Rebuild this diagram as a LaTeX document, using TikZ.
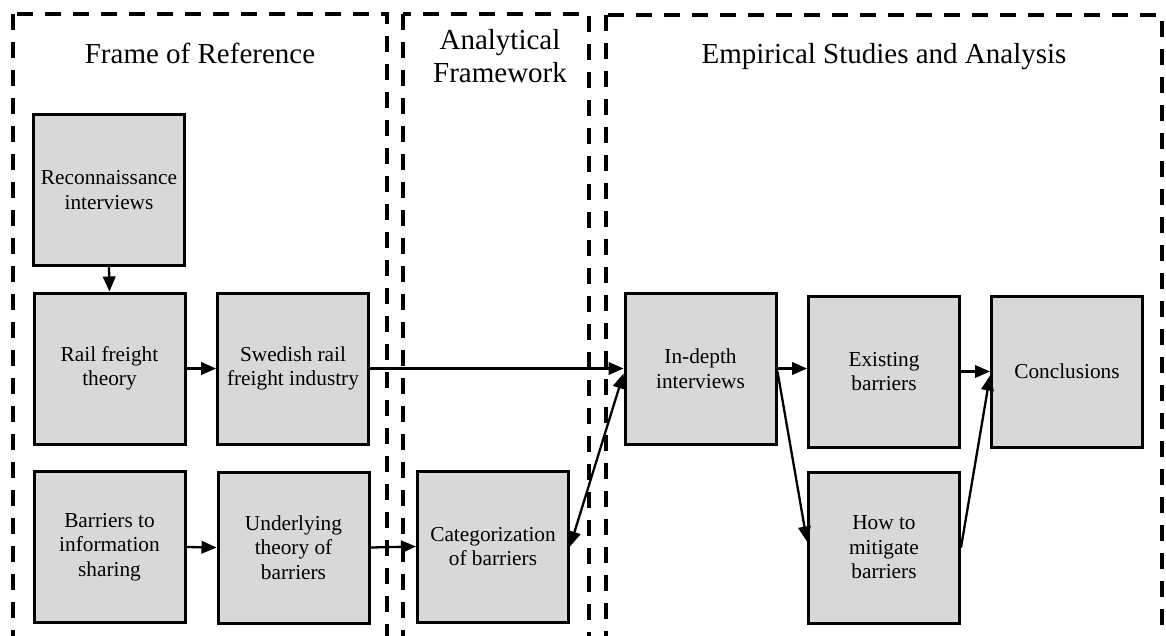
\documentclass[tikz,border=0pt]{standalone}
\usepackage{fontspec}
\setmainfont{Liberation Serif}
\usetikzlibrary{arrows.meta}
\definecolor{boxgray}{RGB}{216,216,216}
\begin{document}
\begin{tikzpicture}[x=1pt,y=-1pt,
  stagebox/.style={draw=black, line width=3pt, fill=boxgray,
    minimum width=151pt, minimum height=151pt, inner sep=0pt,
    align=center, font=\fontsize{21.3}{24.5}\selectfont},
  frame/.style={draw=black, line width=4pt, dash pattern=on 16pt off 12pt},
  title/.style={font=\fontsize{29}{32.5}\selectfont, align=center, anchor=base},
  flow/.style={line width=2.3pt, -{Triangle[length=15pt,width=12.5pt]}},
  both/.style={line width=2.3pt, {Triangle[length=15pt,width=12.5pt]}-{Triangle[length=15pt,width=12.5pt]}}
]
\useasboundingbox (0,0) rectangle (1166,635);

% dashed stage frames, open at the bottom edge
\begin{scope}
  \clip (0,0) rectangle (1166,635);
  \draw[frame] (13,14) rectangle (387,700);
  \draw[frame] (403,14) rectangle (589,700);
  \draw[frame] (606,15) rectangle (1162,700);
\end{scope}

% stage titles (base anchor sits on the last line)
\node[title] (t1) at (200,63) {Frame of Reference};
\node[title] (t2) at (500,82) {Analytical\\Framework};
\node[title] (t3) at (884,63) {Empirical Studies and Analysis};

% research steps
\node[stagebox] (rec)  at (109,190)    {Reconnaissance\\interviews};
\node[stagebox] (rail) at (109.5,368.5) {Rail freight\\theory};
\node[stagebox] (sw)   at (293,368.5)  {Swedish rail\\freight industry};
\node[stagebox] (bar)  at (109.5,547)  {Barriers to\\information\\sharing};
\node[stagebox] (und)  at (293.5,547.5) {Underlying\\theory of\\barriers};
\node[stagebox] (cat)  at (493,546.5)  {Categorization\\of barriers};
\node[stagebox] (ind)  at (700.5,368.5) {In-depth\\interviews};
\node[stagebox] (ex)   at (884,371.5)  {Existing\\barriers};
\node[stagebox] (how)  at (884,547.5)  {How to\\mitigate\\barriers};
\node[stagebox] (conc) at (1067,371.5) {Conclusions};

% connectors
\draw[flow] (rec.south) -- (rail.north);
\draw[flow] (rail.east) -- (sw.west);
\draw[flow] (sw.east) -- (ind.west);
\draw[flow] (bar.east) -- (und.west);
\draw[flow] (und.east) -- (cat.west);
\draw[both] (cat.east) -- ([yshift=-5pt]ind.west);
\draw[flow] (ind.east) -- (ind.east -| ex.west);
\draw[flow] ([yshift=-3pt]ind.east) -- ([yshift=6pt]how.west);
\draw[flow] (ex.east) -- (conc.west);
\draw[flow] (how.east) -- ([yshift=-4pt]conc.west);
\end{tikzpicture}
\end{document}
